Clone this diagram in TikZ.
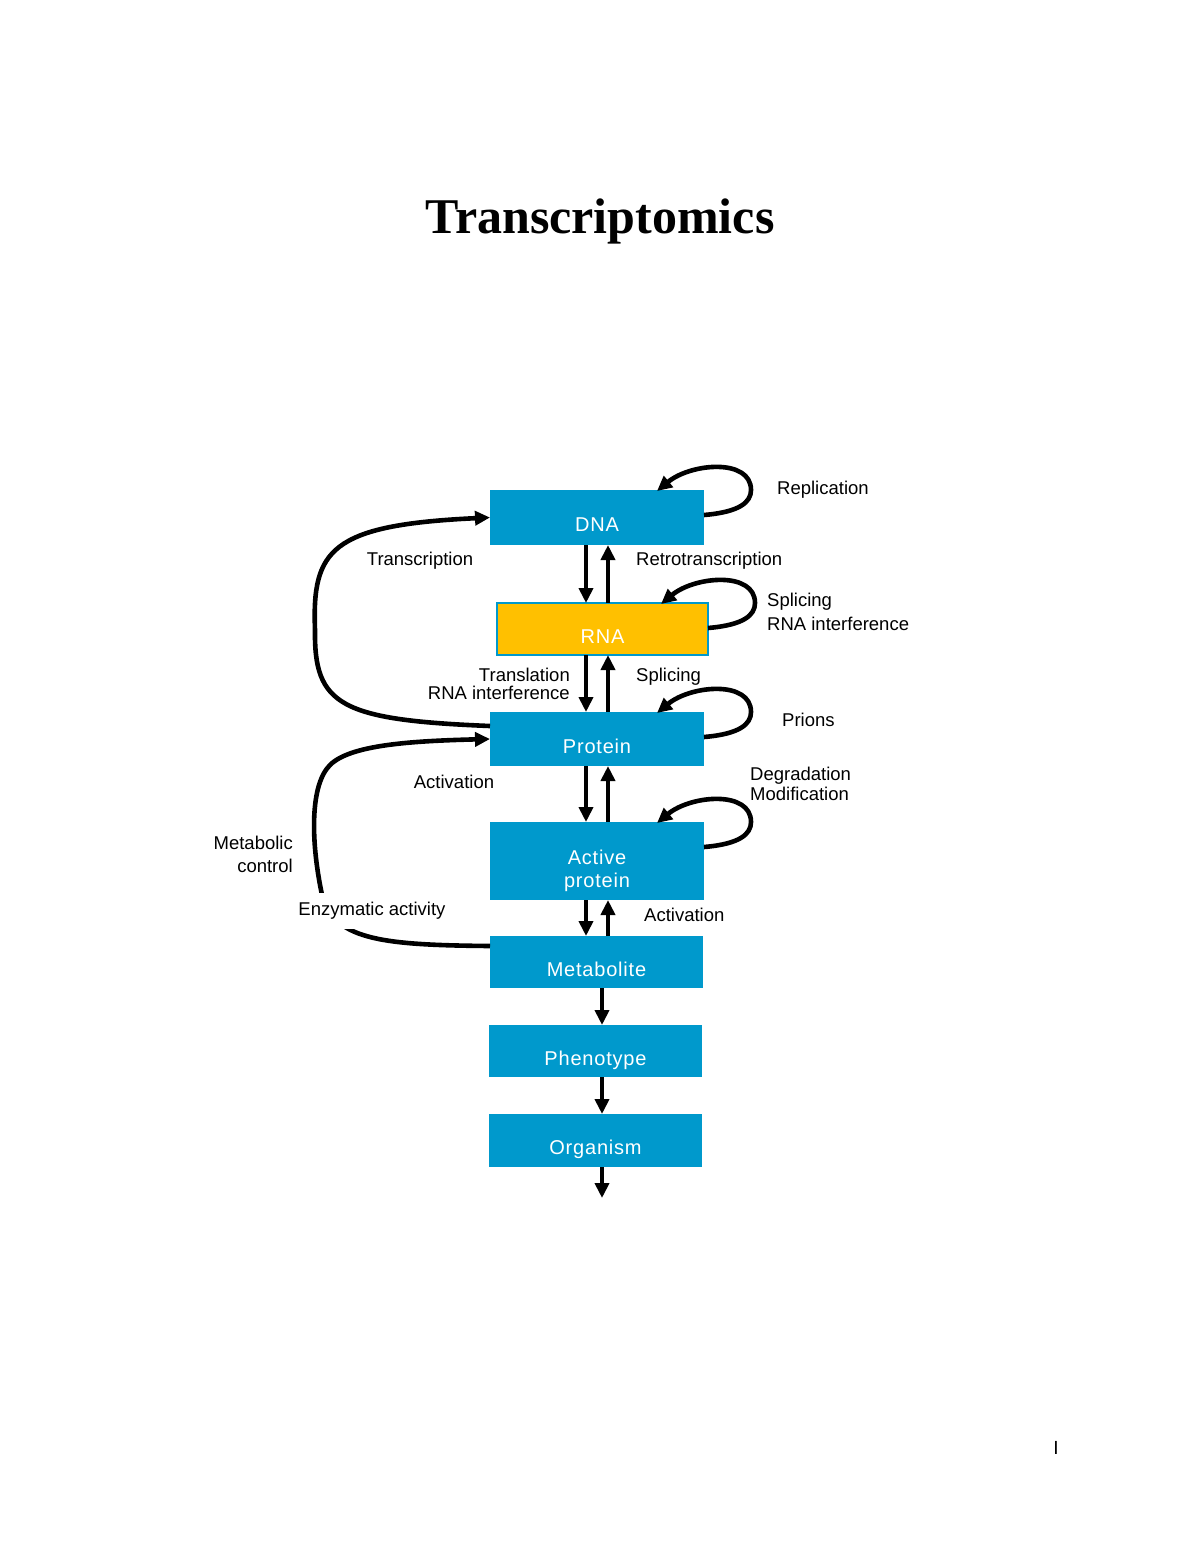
\documentclass[tikz,border=0pt]{standalone}
\usepackage{fontspec}
\setmainfont{Liberation Serif}
\setsansfont{Liberation Sans}
\newfontfamily\boxfont[LetterSpace=4]{Liberation Sans}
\usetikzlibrary{arrows.meta,calc}
\definecolor{boxblue}{RGB}{0,153,204}
\definecolor{rnayellow}{RGB}{255,192,0}
\begin{document}
\begin{tikzpicture}[x=1pt,y=-1pt,
  stage/.style={rectangle, fill=boxblue, inner sep=0pt, outer sep=0pt, text=white,
    font=\boxfont\fontsize{20}{23}\selectfont, text height=28pt, text depth=0pt},
  flow/.style={line width=4.6pt, -{Triangle[length=15pt,width=14pt]}},
  lbl/.style={font=\sffamily\fontsize{18.5}{20}\selectfont, inner sep=0pt}]

\useasboundingbox[fill=white] (0,0) rectangle (1200,1553);

% title and page mark
\node[font=\bfseries\fontsize{50}{60}\selectfont, anchor=base] (title) at (600,233) {Transcriptomics};
\node[font=\sffamily\fontsize{19}{22}\selectfont, anchor=base] (page) at (1056,1454) {I};

% stages
\node[stage, minimum width=214pt, minimum height=55pt] (dna) at (597,517.5) {DNA};
\node[stage, fill=rnayellow, draw=boxblue, line width=2pt, minimum width=211pt, minimum height=52pt] (rna) at (602.5,629) {RNA};
\node[stage, minimum width=214pt, minimum height=54pt] (protein) at (597,739) {Protein};
\node[stage, minimum width=214pt, minimum height=78pt, align=center, text height=52pt, text depth=0pt] (active) at (597,861) {Active\\protein};
\node[stage, minimum width=213pt, minimum height=52pt] (metab) at (596.5,962) {Metabolite};
\node[stage, minimum width=213pt, minimum height=52pt] (pheno) at (595.5,1051) {Phenotype};
\node[stage, minimum width=213pt, minimum height=53pt] (organism) at (595.5,1140.5) {Organism};

\coordinate (xd) at (586,0);
\coordinate (xu) at (608,0);
\coordinate (xm) at (602,0);
\coordinate (out) at (602,1198);

% vertical arrows
\draw[flow] (dna.south -| xd) -- (rna.north -| xd);
\draw[flow] (rna.north -| xu) -- (dna.south -| xu);
\draw[flow] (rna.south -| xd) -- (protein.north -| xd);
\draw[flow] (protein.north -| xu) -- (rna.south -| xu);
\draw[flow] (protein.south -| xd) -- (active.north -| xd);
\draw[flow] (active.north -| xu) -- (protein.south -| xu);
\draw[flow] (active.south -| xd) -- (metab.north -| xd);
\draw[flow] (metab.north -| xu) -- (active.south -| xu);
\draw[flow] (metab.south -| xm) -- (pheno.north -| xm);
\draw[flow] (pheno.south -| xm) -- (organism.north -| xm);
\draw[flow] (organism.south -| xm) -- (out);

% self loops
\foreach \n in {dna,rna,protein,active}{
  \draw[flow] ($(\n.north east)+(0,25)$) .. controls +(36,-3) and +(0,12) .. ++(47,-25)
     .. controls +(0,-32) and +(34,-28) .. ($(\n.north east)+(-47,1)$);
}

% long feedback curves
\draw[flow] ($(protein.west)+(0,-13)$) .. controls (340,720) and (314,705) .. (315,630)
   .. controls (312,550) and (330,525) .. (dna.west);
\draw[flow] ($(metab.west)+(0,-16)$) .. controls (380,945) and (330,940) .. (321,890)
   .. controls (311,840) and (310,785) .. (330,765)
   .. controls (350,745) and (410,741) .. (protein.west);

% labels
\node[lbl, anchor=west] (lrep) at (777,490) {Replication};
\node[lbl] (ltrans) at (420,561) {Transcription};
\node[lbl, anchor=west] (lretro) at (636,561) {Retrotranscription};
\node[lbl, anchor=west, align=left, font=\sffamily\fontsize{18.5}{24}\selectfont] (lsplice1) at (767,612) {Splicing\\RNA interference};
\node[lbl, anchor=east, align=right, font=\sffamily\fontsize{18.5}{18.5}\selectfont] (ltransl) at (570,684) {Translation\\RNA interference};
\node[lbl, anchor=west] (lsplice2) at (636,677) {Splicing};
\node[lbl, anchor=west] (lprion) at (782,720) {Prions};
\node[lbl, anchor=west, align=left, font=\sffamily\fontsize{18.5}{20}\selectfont] (ldeg) at (750,784) {Degradation\\Modification};
\node[lbl] (lact1) at (454,782) {Activation};
\node[lbl, anchor=east, align=right, font=\sffamily\fontsize{18.5}{23}\selectfont] (lmet) at (293,854.5) {Metabolic\\control};
\node[lbl, anchor=west] (lact2) at (644,915) {Activation};
\node[lbl, fill=white, inner xsep=2pt, inner ysep=9pt] (lenz) at (372,911) {Enzymatic activity};
\end{tikzpicture}
\end{document}
